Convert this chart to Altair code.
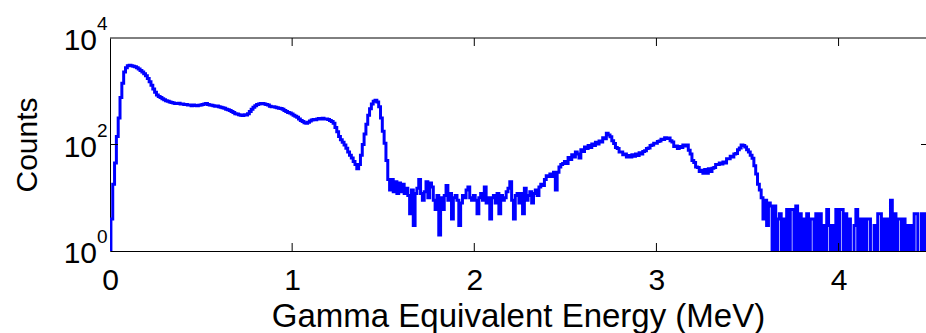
import altair as alt
import pandas as pd

FONT = "Liberation Sans"
BIN = 0.01  # channel width in MeV

# Counts per 0.01 MeV channel, grouped by energy range
counts_000_049 = [0, 4, 18, 45, 141, 316, 760, 1410, 2290, 2750,
                  3020, 3090, 3020, 2950, 2880, 2750, 2630, 2450, 2290, 2140,
                  1950, 1740, 1510, 1290, 1100, 955, 850, 794, 760, 724,
                  692, 660, 646, 631, 617, 603, 590, 589, 592, 575,
                  575, 562, 566, 550, 553, 537, 550, 540, 537, 548]
counts_050_099 = [550, 562, 575, 589, 562, 550, 548, 537, 525, 528,
                  513, 501, 490, 479, 457, 447, 437, 417, 398, 380,
                  372, 363, 355, 352, 363, 360, 380, 417, 457, 501,
                  537, 562, 575, 589, 589, 575, 562, 550, 525, 513,
                  510, 501, 490, 479, 475, 457, 437, 417, 398, 389]
counts_100_149 = [372, 355, 339, 324, 302, 282, 269, 257, 251, 263,
                  275, 288, 295, 292, 302, 309, 302, 312, 300, 302,
                  295, 282, 269, 251, 209, 174, 141, 123, 110, 98,
                  85, 72, 63, 56, 48, 42, 35, 42, 63, 100,
                  158, 240, 355, 468, 575, 646, 676, 631, 513, 316]
counts_150_199 = [178, 105, 50, 22, 14, 22, 13, 20, 12, 19,
                  13, 18, 12, 15, 11, 5, 14, 3, 12, 15,
                  22, 12, 9, 13, 20, 10, 19, 16, 9, 6,
                  11, 2, 10, 6, 11, 17, 9, 12, 4, 10,
                  11, 9, 3, 8, 11, 10, 14, 16, 10, 9]
counts_200_249 = [11, 9, 5, 10, 12, 9, 16, 8, 10, 4,
                  10, 11, 8, 12, 5, 11, 9, 10, 13, 15,
                  20, 9, 4, 11, 12, 8, 12, 5, 15, 9,
                  11, 13, 8, 12, 14, 11, 16, 18, 17, 22,
                  26, 25, 28, 25, 30, 14, 30, 38, 42, 44]
counts_250_299 = [48, 44, 57, 52, 64, 58, 72, 66, 56, 80,
                  74, 90, 84, 96, 88, 102, 96, 110, 102, 116,
                  112, 134, 128, 162, 150, 140, 118, 104, 88, 84,
                  72, 72, 64, 66, 58, 62, 58, 64, 60, 66,
                  62, 70, 66, 74, 76, 84, 86, 96, 98, 106]
counts_300_349 = [106, 114, 116, 126, 124, 134, 130, 132, 118, 112,
                  92, 94, 84, 92, 88, 98, 94, 98, 78, 66,
                  50, 46, 38, 37, 31, 33, 29, 34, 29, 35,
                  31, 36, 37, 42, 42, 45, 43, 47, 45, 54,
                  54, 60, 58, 66, 68, 80, 86, 98, 96, 90]
counts_350_399 = [80, 72, 63, 55, 40, 28, 18, 14, 10, 4,
                  9, 3, 8, 7, 0, 7, 0, 4, 5, 0,
                  4, 0, 6, 0, 6, 6, 0, 7, 0, 5,
                  0, 4, 0, 5, 0, 4, 4, 0, 5, 0,
                  5, 0, 3, 0, 6, 3, 0, 3, 0, 6]
counts_400_450 = [0, 6, 6, 0, 5, 0, 4, 0, 0, 3,
                  6, 0, 4, 0, 4, 0, 4, 4, 0, 0,
                  3, 0, 5, 5, 0, 4, 0, 4, 0, 9,
                  0, 5, 0, 4, 4, 0, 4, 0, 3, 0,
                  3, 0, 5, 5, 0, 0, 5, 0, 5, 0,
                  4]

segments = [(0.0, counts_000_049), (0.5, counts_050_099), (1.0, counts_100_149),
            (1.5, counts_150_199), (2.0, counts_200_249), (2.5, counts_250_299),
            (3.0, counts_300_349), (3.5, counts_350_399), (4.0, counts_400_450)]

rows = []
for start, seg in segments:
    for i, c in enumerate(seg):
        rows.append({"energy": round(start + i * BIN, 2), "counts": c})
spectrum_df = pd.DataFrame(rows)

x_ticks = [0, 1, 2, 3, 4]
inner_x_ticks = [1, 2, 3, 4]
decade_levels = [1, 100, 10000]
decade_exponents = ["0", "2", "4"]

W, H = 816, 213
x_scale = alt.Scale(domain=[0, 4.48], nice=False, zero=False)
y_scale = alt.Scale(type="log", domain=[1, 10000], nice=False)

# Empty channels sit below the lowest decade; floor them so the log scale can place them
spectrum = alt.Chart(spectrum_df).transform_calculate(
    level="max(datum.counts, 0.1)"
).mark_line(color="#0000ff", strokeWidth=3, interpolate="step", clip=True).encode(
    x=alt.X("energy:Q", scale=x_scale,
            axis=alt.Axis(values=x_ticks, format="d", labelFont=FONT, labelFontSize=30,
                          labelColor="black", labelFlush=False, labelOverlap=False,
                          ticks=False, tickSize=0, labelPadding=14,
                          domainColor="black", domainWidth=1, grid=False,
                          title="Gamma Equivalent Energy (MeV)", titleFont=FONT,
                          titleFontSize=33, titleFontWeight="normal", titleColor="black",
                          titleBaseline="alphabetic", titleY=75)),
    y=alt.Y("level:Q", scale=y_scale,
            axis=alt.Axis(labels=False, ticks=False, tickSize=0, grid=False,
                          domainColor="black", domainWidth=1,
                          title="Counts", titleFont=FONT, titleFontSize=30,
                          titleFontWeight="normal", titleColor="black",
                          titleX=-74, titleY=H / 2, titleBaseline="alphabetic",
                          titleAngle=270)),
)

xt = pd.DataFrame({"energy": inner_x_ticks})
top_ticks = alt.Chart(xt).mark_rule(color="black", strokeWidth=1).encode(
    x=alt.X("energy:Q", scale=x_scale), y=alt.value(0), y2=alt.value(8))
bottom_ticks = alt.Chart(xt).mark_rule(color="black", strokeWidth=1).encode(
    x=alt.X("energy:Q", scale=x_scale), y=alt.value(H - 8), y2=alt.value(H))

mid = pd.DataFrame({"level": [100]})
left_tick = alt.Chart(mid).mark_rule(color="black", strokeWidth=1).encode(
    y=alt.Y("level:Q", scale=y_scale), x=alt.value(0), x2=alt.value(8))
right_tick = alt.Chart(mid).mark_rule(color="black", strokeWidth=1).encode(
    y=alt.Y("level:Q", scale=y_scale), x=alt.value(W - 5), x2=alt.value(W + 3))

top_edge = alt.Chart(pd.DataFrame({"level": [10000]})).mark_rule(
    color="black", strokeWidth=1).encode(
    y=alt.Y("level:Q", scale=y_scale), x=alt.value(0), x2=alt.value(W + 3))

decades = pd.DataFrame({"level": decade_levels, "exp": decade_exponents})
ten = alt.Chart(decades).mark_text(
    text="10", align="right", baseline="alphabetic", dy=12,
    font=FONT, fontSize=30, color="black").encode(
    y=alt.Y("level:Q", scale=y_scale), x=alt.value(-13))
exponent = alt.Chart(decades).mark_text(
    align="left", baseline="alphabetic", dy=-8,
    font=FONT, fontSize=19, color="black").encode(
    y=alt.Y("level:Q", scale=y_scale), x=alt.value(-13), text="exp:N")

chart = alt.layer(
    spectrum, top_edge, top_ticks, bottom_ticks, left_tick, right_tick, ten, exponent
).properties(
    width=W, height=H,
    autosize=alt.AutoSizeParams(type="none"),
    padding={"left": 110, "top": 38, "right": 0, "bottom": 82},
    background="white",
).configure_view(stroke=None)

chart.save("out.html", embed_options={"renderer": "svg", "actions": False})
